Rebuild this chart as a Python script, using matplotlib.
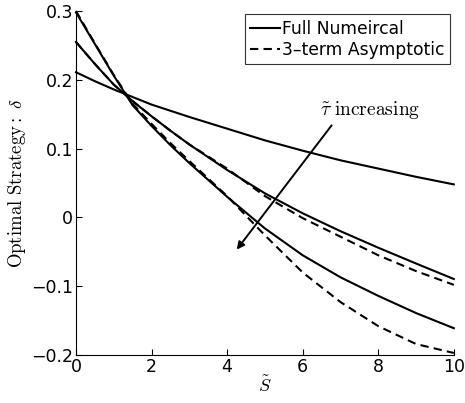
import matplotlib
matplotlib.use("Agg")
import matplotlib.pyplot as plt

plt.rcParams['font.family'] = ['DejaVu Sans']
plt.rcParams['mathtext.fontset'] = 'cm'

S = [0, 0.5, 1, 1.5, 2, 2.5, 3, 4, 5, 6, 7, 8, 9, 10]

full_1 = [0.211, 0.198, 0.186, 0.175, 0.164, 0.155, 0.146, 0.129, 0.112, 0.097, 0.083, 0.071, 0.059, 0.048]
full_2 = [0.255, 0.223, 0.193, 0.169, 0.147, 0.126, 0.106, 0.069, 0.035, 0.006, -0.020, -0.044, -0.067, -0.0895]
full_3 = [0.298, 0.252, 0.206, 0.163, 0.133, 0.105, 0.079, 0.030, -0.016, -0.055, -0.087, -0.114, -0.139, -0.161]

asym_2 = [0.255, 0.223, 0.193, 0.169, 0.147, 0.126, 0.106, 0.071, 0.031, -0.001, -0.028, -0.055, -0.078, -0.098]
asym_3 = [0.300, 0.253, 0.207, 0.165, 0.136, 0.108, 0.082, 0.031, -0.026, -0.080, -0.123, -0.158, -0.184, -0.197]

xticks = [0, 2, 4, 6, 8, 10]
yticks = [-0.2, -0.1, 0, 0.1, 0.2, 0.3]
yticklabels = ['\u22120.2', '\u22120.1', '0', '0.1', '0.2', '0.3']

fig = plt.figure(figsize=(4.65, 4.03), dpi=100)
ax = fig.add_axes([0.1634, 0.119, 0.8126, 0.8537])

lw = 1.5
dash = (4, 2.5)
l1, = ax.plot(S, full_1, color='k', lw=lw, clip_on=False)
ax.plot(S, full_2, color='k', lw=lw, clip_on=False)
ax.plot(S, full_3, color='k', lw=lw, clip_on=False)
l2, = ax.plot(S, asym_2, color='k', lw=lw, ls='--', dashes=dash, clip_on=False)
ax.plot(S, asym_3, color='k', lw=lw, ls='--', dashes=dash, clip_on=False)

ax.set_xlim(0, 10)
ax.set_ylim(-0.2, 0.3)
ax.set_xticks(xticks)
ax.set_xticklabels([str(t) for t in xticks])
ax.set_yticks(yticks)
ax.set_yticklabels(yticklabels)
ax.tick_params(direction='in', length=4, labelsize=12.5, width=0.8, pad=2)
for sp in ['top', 'right']:
    ax.spines[sp].set_visible(False)
for sp in ['left', 'bottom']:
    ax.spines[sp].set_linewidth(0.8)

ax.set_xlabel(r'$\tilde{S}$', fontsize=13, labelpad=0)
ax.set_ylabel(r'$\mathrm{Optimal\ Strategy{:}}\ \delta$', fontsize=13.5, labelpad=2)

ax.annotate('', xy=(4.21, -0.050), xytext=(6.81, 0.137),
            arrowprops=dict(arrowstyle='-|>', color='k', lw=1.4, mutation_scale=11))
ax.text(6.45, 0.140, r'$\tilde{\tau}\ \mathrm{increasing}$', fontsize=14, ha='left', va='bottom')

leg = ax.legend([l1, l2], ['Full Numeircal', '3\u2013term Asymptotic'], loc='upper right',
                bbox_to_anchor=(0.99, 0.99), fontsize=12.3, frameon=True, fancybox=False,
                edgecolor='k', handlelength=1.7, handletextpad=0.17, borderpad=0.3,
                labelspacing=0.2, borderaxespad=0)
leg.get_frame().set_linewidth(0.8)

fig.savefig('out.png', dpi=100)
